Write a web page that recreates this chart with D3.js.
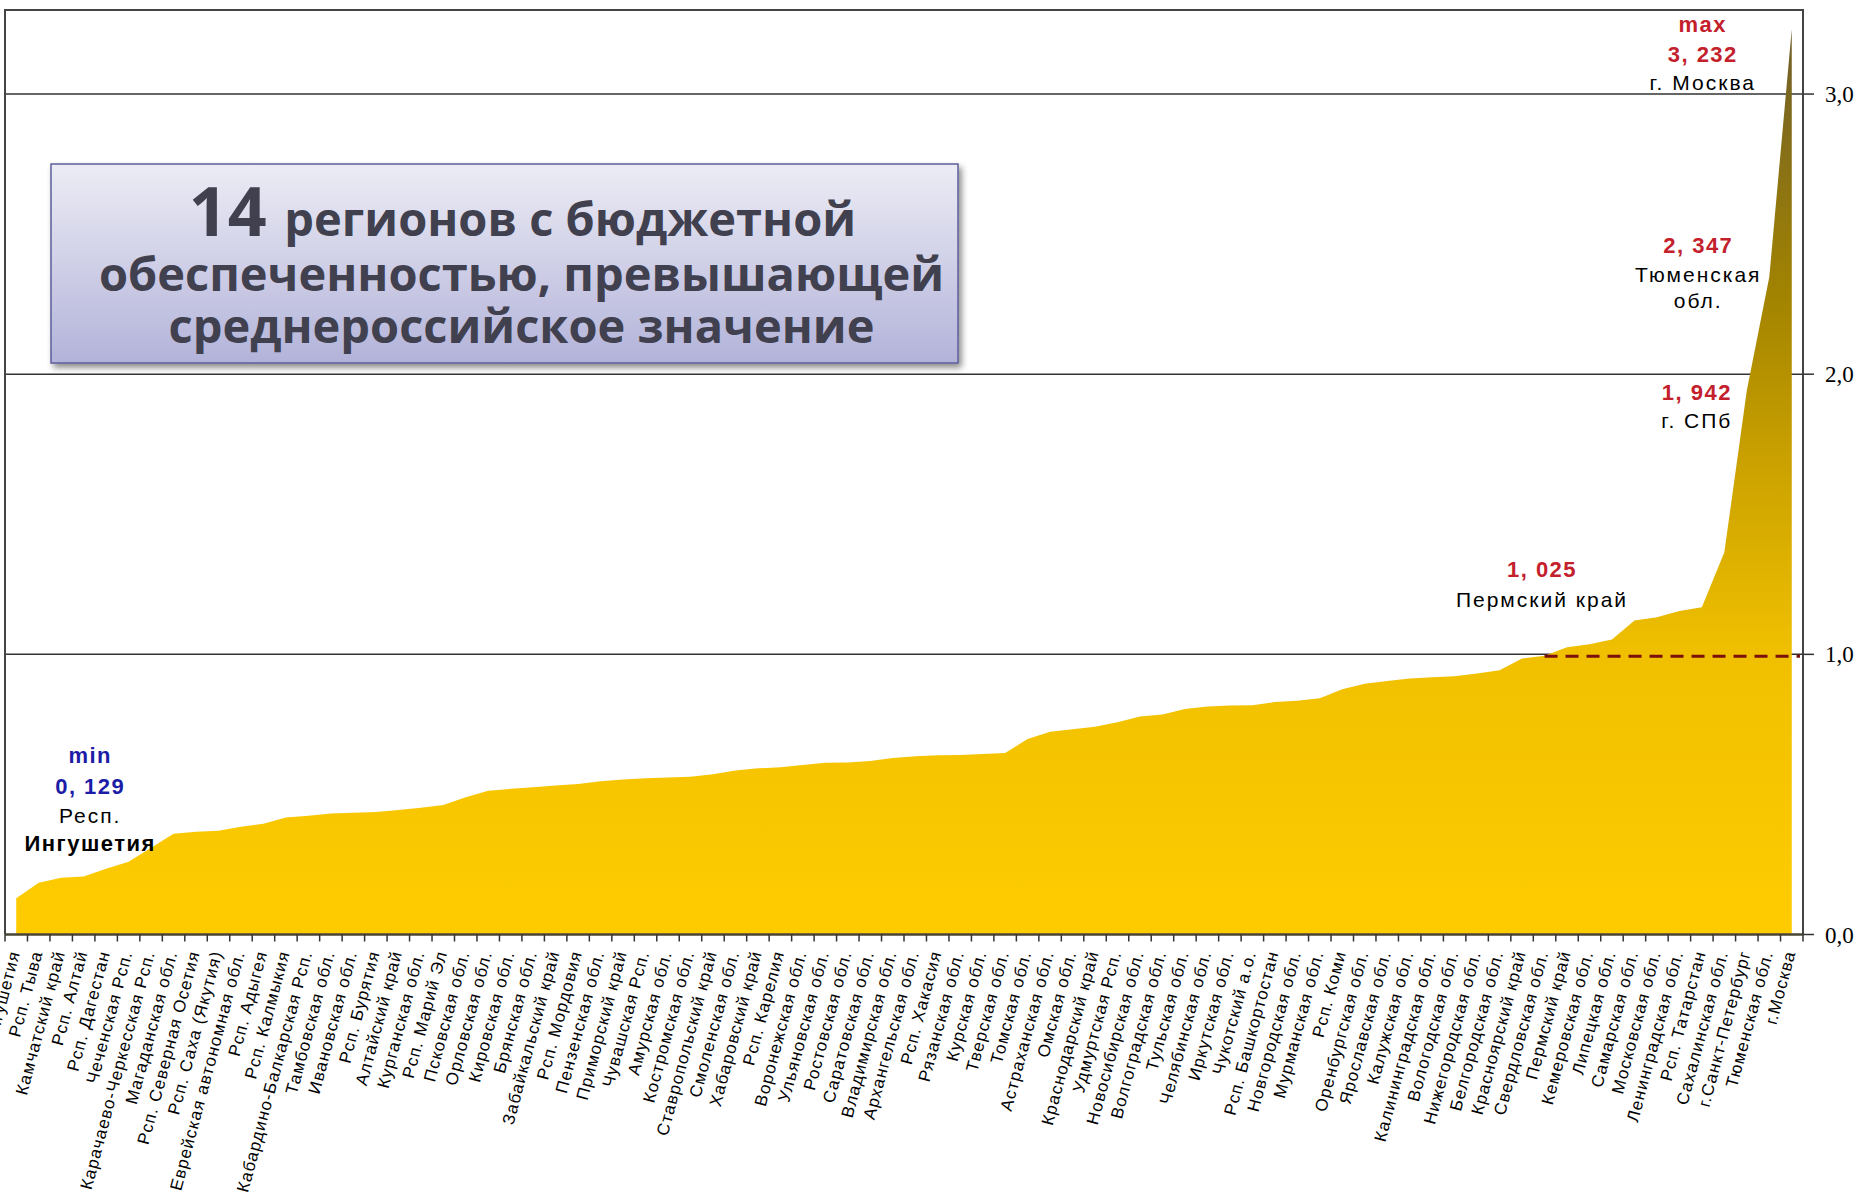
<!DOCTYPE html>
<html lang="ru">
<head>
<meta charset="utf-8">
<title>Бюджетная обеспеченность регионов</title>
<script src="https://cdn.jsdelivr.net/npm/d3@7"></script>
<style>
  html, body { margin: 0; padding: 0; background: #fff; }
  svg { display: block; }
  .cat-label { font-family: "Liberation Sans", Arial, sans-serif; font-size: 17px; letter-spacing: 1.1px; fill: #000; }
  .y-label { font-family: "Liberation Serif", "Times New Roman", serif; font-size: 23px; fill: #000; }
  .note { font-family: "Liberation Sans", Arial, sans-serif; font-size: 21px; letter-spacing: 2px; text-anchor: middle; }
  .note.num { font-weight: bold; letter-spacing: 1.5px; font-size: 22px; }
  .title { font-family: "Open Sans", "Noto Sans", sans-serif; font-weight: bold; fill: #40404f; text-anchor: middle; }
</style>
</head>
<body>
<div id="chart"></div>
<script>
// регионы, упорядоченные по возрастанию бюджетной обеспеченности
const regions = [
  "Рсп. Ингушетия", "Рсп. Тыва", "Камчатский край", "Рсп. Алтай", "Рсп. Дагестан",
  "Чеченская Рсп.", "Карачаево-Черкесская Рсп.", "Магаданская обл.", "Рсп. Северная Осетия", "Рсп. Саха (Якутия)",
  "Еврейская автономная обл.", "Рсп. Адыгея", "Рсп. Калмыкия", "Кабардино-Балкарская Рсп.", "Тамбовская обл.",
  "Ивановская обл.", "Рсп. Бурятия", "Алтайский край", "Курганская обл.", "Рсп. Марий Эл",
  "Псковская обл.", "Орловская обл.", "Кировская обл.", "Брянская обл.", "Забайкальский край",
  "Рсп. Мордовия", "Пензенская обл.", "Приморский край", "Чувашская Рсп.", "Амурская обл.",
  "Костромская обл.", "Ставропольский край", "Смоленская обл.", "Хабаровский край", "Рсп. Карелия",
  "Воронежская обл.", "Ульяновская обл.", "Ростовская обл.", "Саратовская обл.", "Владимирская обл.",
  "Архангельская обл.", "Рсп. Хакасия", "Рязанская обл.", "Курская обл.", "Тверская обл.",
  "Томская обл.", "Астраханская обл.", "Омская обл.", "Краснодарский край", "Удмуртская Рсп.",
  "Новосибирская обл.", "Волгоградская обл.", "Тульская обл.", "Челябинская обл.", "Иркутская обл.",
  "Чукотский а.о.", "Рсп. Башкортостан", "Новгородская обл.", "Мурманская обл.", "Рсп. Коми",
  "Оренбургская обл.", "Ярославская обл.", "Калужская обл.", "Калининградская обл.", "Вологодская обл.",
  "Нижегородская обл.", "Белгородская обл.", "Красноярский край", "Свердловская обл.", "Пермский край",
  "Кемеровская обл.", "Липецкая обл.", "Самарская обл.", "Московская обл.", "Ленинградская обл.",
  "Рсп. Татарстан", "Сахалинская обл.", "г.Санкт-Петербург", "Тюменская обл.", "г.Москва"
];

const values = [
  0.129, 0.185, 0.203, 0.207, 0.235, 0.260, 0.310, 0.360, 0.367, 0.370,
  0.385, 0.395, 0.418, 0.424, 0.432, 0.435, 0.437, 0.444, 0.452, 0.462,
  0.490, 0.513, 0.520, 0.526, 0.532, 0.537, 0.547, 0.553, 0.558, 0.560,
  0.563, 0.572, 0.585, 0.593, 0.597, 0.605, 0.613, 0.614, 0.619, 0.630,
  0.636, 0.640, 0.641, 0.644, 0.648, 0.698, 0.724, 0.733, 0.742, 0.758,
  0.778, 0.785, 0.805, 0.814, 0.817, 0.818, 0.830, 0.834, 0.843, 0.875,
  0.895, 0.905, 0.914, 0.918, 0.922, 0.932, 0.943, 0.985, 0.995, 1.025,
  1.036, 1.053, 1.121, 1.132, 1.155, 1.168, 1.364, 1.942, 2.347, 3.232
];

const yTicks = [0, 1, 2, 3];
const yTickLabels = ["0,0", "1,0", "2,0", "3,0"];
const averageValue = 1.0;
const averageFrom = "Свердловская обл.";

const titleLines = ["регионов с бюджетной", "обеспеченностью, превышающей", "среднероссийское значение"];
const titleCount = "14";

const maxNote = ["max", "3, 232", "г. Москва"];
const tyumenNote = ["2, 347", "Тюменская", "обл."];
const spbNote = ["1, 942", "г. СПб"];
const permNote = ["1, 025", "Пермский  край"];
const minNote = ["min", "0, 129", "Респ.", "Ингушетия"];

const width = 1864;
const height = 1196;
const plot = { left: 5, right: 1803, top: 10, bottom: 934.5 };

const data = regions.map((r, i) => ({ region: r, value: values[i] }));

const svg = d3.select("#chart").append("svg")
  .attr("width", width)
  .attr("height", height)
  .attr("viewBox", `0 0 ${width} ${height}`);

const x = d3.scaleBand().domain(regions).range([plot.left, plot.right]).padding(0);
const cx = (r) => x(r) + x.bandwidth() / 2;
const y = d3.scaleLinear().domain([0, 3.3]).range([plot.bottom, plot.top]);

const defs = svg.append("defs");
const grad = defs.append("linearGradient")
  .attr("id", "areaFill")
  .attr("gradientUnits", "userSpaceOnUse")
  .attr("x1", 0).attr("x2", 0)
  .attr("y1", y(0)).attr("y2", y(d3.max(values)));
[
  [0, "#ffcc00"], [0.31, "#f0c000"], [0.53, "#c9a000"], [0.7, "#a38400"], [1, "#6f5e2a"]
].forEach(([o, c]) => grad.append("stop").attr("offset", o).attr("stop-color", c));

const boxGrad = defs.append("linearGradient")
  .attr("id", "boxFill").attr("x1", 0).attr("x2", 0).attr("y1", 0).attr("y2", 1);
boxGrad.append("stop").attr("offset", 0).attr("stop-color", "#ececf5");
boxGrad.append("stop").attr("offset", 1).attr("stop-color", "#b3b3da");

const shadow = defs.append("filter").attr("id", "shadow")
  .attr("x", "-5%").attr("y", "-5%").attr("width", "115%").attr("height", "125%");
shadow.append("feDropShadow")
  .attr("dx", 3).attr("dy", 4).attr("stdDeviation", 3)
  .attr("flood-color", "#000").attr("flood-opacity", 0.45);

// сетка
svg.append("g")
  .selectAll("line")
  .data(yTicks.filter((t) => t > 0))
  .join("line")
  .attr("x1", plot.left).attr("x2", plot.right)
  .attr("y1", (d) => y(d)).attr("y2", (d) => y(d))
  .attr("stroke", "#333").attr("stroke-width", 1.5);

// область
const area = d3.area()
  .x((d) => cx(d.region))
  .y0(y(0))
  .y1((d) => y(d.value));

svg.append("path")
  .datum(data)
  .attr("d", area)
  .attr("fill", "url(#areaFill)");

// линия среднероссийского значения
svg.append("line")
  .attr("x1", cx(averageFrom))
  .attr("x2", plot.right - 3)
  .attr("y1", y(averageValue) + 2)
  .attr("y2", y(averageValue) + 2)
  .attr("stroke", "#7b0f0f")
  .attr("stroke-width", 3)
  .attr("stroke-dasharray", "13,8");

// рамка
svg.append("path")
  .attr("d", `M${plot.left},${plot.bottom}V${plot.top}H${plot.right}V${plot.bottom}`)
  .attr("fill", "none")
  .attr("stroke", "#444")
  .attr("stroke-width", 2);

// нижняя ось
const xAxis = svg.append("g").attr("transform", `translate(0,${plot.bottom})`);
xAxis.append("line")
  .attr("x1", plot.left).attr("x2", plot.right)
  .attr("stroke", "#4a4435").attr("stroke-width", 2.5);
xAxis.append("g")
  .selectAll("line")
  .data(regions.concat([null]))
  .join("line")
  .attr("x1", (d, i) => plot.left + i * x.bandwidth())
  .attr("x2", (d, i) => plot.left + i * x.bandwidth())
  .attr("y1", 0).attr("y2", 7)
  .attr("stroke", "#333").attr("stroke-width", 1.5);

xAxis.append("g")
  .selectAll("text")
  .data(regions)
  .join("text")
  .attr("class", "cat-label")
  .attr("text-anchor", "end")
  .attr("transform", (d) => `translate(${cx(d) + 4},${18}) rotate(-75)`)
  .text((d) => d);

// правая ось
const yAxis = svg.append("g").attr("transform", `translate(${plot.right},0)`);
yAxis.selectAll("line")
  .data(yTicks)
  .join("line")
  .attr("x1", 0).attr("x2", 11)
  .attr("y1", (d) => y(d)).attr("y2", (d) => y(d))
  .attr("stroke", "#333").attr("stroke-width", 1.5);
yAxis.selectAll("text")
  .data(yTicks)
  .join("text")
  .attr("class", "y-label")
  .attr("x", 22)
  .attr("y", (d) => y(d) + 8)
  .text((d, i) => yTickLabels[i]);

// подписи
function note(lines, xPos, baselines, colors, numIdx) {
  const g = svg.append("g");
  lines.forEach((t, i) => {
    g.append("text")
      .attr("class", "note" + (numIdx.includes(i) ? " num" : ""))
      .attr("x", xPos)
      .attr("y", baselines[i])
      .attr("fill", colors[i])
      .style("font-weight", numIdx.includes(i) ? "bold" : "normal")
      .text(t);
  });
}
const red = "#c3202c";
const blue = "#1c1ca6";

note(maxNote, cx("г.Москва") - 89, [32, 62, 90], [red, red, "#000"], [0, 1]);
note(tyumenNote, cx("Тюменская обл.") - 71, [253, 282, 308], [red, "#000", "#000"], [0]);
note(spbNote, cx("г.Санкт-Петербург") - 50, [400, 428], [red, "#000"], [0]);
note(permNote, cx("Пермский край") - 25, [577, 607], [red, "#000"], [0]);
note(minNote, cx("Рсп. Ингушетия") + 74, [763, 794, 823, 851], [blue, blue, "#000", "#000"], [0, 1, 3]);

// заголовок в рамке
const box = { x: 51, y: 164, w: 907, h: 199 };
svg.append("rect")
  .attr("x", box.x).attr("y", box.y)
  .attr("width", box.w).attr("height", box.h)
  .attr("fill", "url(#boxFill)")
  .attr("stroke", "#5e5e9c")
  .attr("stroke-width", 1.5)
  .attr("filter", "url(#shadow)");

const t1 = svg.append("text").attr("class", "title")
  .attr("x", box.x + box.w / 2 + 18).attr("y", 236);
t1.append("tspan").attr("font-size", 68).text(titleCount + " ");
t1.append("tspan").attr("font-size", 47).text(titleLines[0]);

svg.append("text").attr("class", "title")
  .attr("x", box.x + box.w / 2 + 17).attr("y", 291)
  .attr("font-size", 47)
  .text(titleLines[1]);

svg.append("text").attr("class", "title")
  .attr("x", box.x + box.w / 2 + 17).attr("y", 343)
  .attr("font-size", 47)
  .text(titleLines[2]);
</script>
</body>
</html>
